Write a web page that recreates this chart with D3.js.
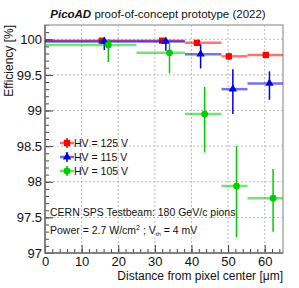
<!DOCTYPE html>
<html><head><meta charset="utf-8">
<script src="https://cdn.jsdelivr.net/npm/d3@7"></script>
<style>body{margin:0;background:#fff;}svg{display:block;font-family:"Liberation Sans",Arial,sans-serif;}</style>
</head><body><div id="chart"></div>
<script>
// Data: x (µm), x-low, x-high, efficiency (%), eff-low, eff-high
const series = ["HV = 125 V", "HV = 115 V", "HV = 105 V"];
const colors = ["#ff0000", "#0000e0", "#00cc00"];
const redX    = [15.5, 32.0, 41.5, 50.2, 60.3];
const redXlo  = [0, 25, 38.2, 48.2, 55.3];
const redXhi  = [25, 38.2, 48.2, 55.3, 65];
const redY    = [99.98, 99.98, 99.95, 99.76, 99.78];
const redYlo  = [99.95, 99.95, 99.91, 99.71, 99.74];
const redYhi  = [100.0, 100.0, 99.99, 99.81, 99.82];
const blueX   = [16.2, 33.0, 42.5, 51.3, 61.3];
const blueXlo = [0, 25, 38.2, 48.2, 55.3];
const blueXhi = [25, 38.2, 48.2, 55.3, 65];
const blueY   = [99.97, 99.97, 99.79, 99.30, 99.38];
const blueYlo = [99.85, 99.84, 99.59, 98.95, 99.15];
const blueYhi = [100.0, 100.0, 99.93, 99.58, 99.55];
const greenX   = [17.3, 34.0, 43.6, 52.3, 62.3];
const greenXlo = [0, 25, 38.2, 48.2, 55.3];
const greenXhi = [25, 38.2, 48.2, 55.3, 65];
const greenY   = [99.92, 99.81, 98.95, 97.94, 97.77];
const greenYlo = [99.68, 99.52, 98.41, 97.22, 97.30];
const greenYhi = [100.0, 99.95, 99.33, 98.50, 98.18];
const xTicks = [0, 10, 20, 30, 40, 50, 60];
const yTicks = [97, 97.5, 98, 98.5, 99, 99.5, 100];

const W = 299, H = 288;
const m = {l: 45, r: 283, t: 25, b: 253};
const svg = d3.select("#chart").append("svg").attr("width", W).attr("height", H);
const x = d3.scaleLinear().domain([0, 65]).range([m.l, m.r]);
const y = d3.scaleLinear().domain([97, 100.2]).range([m.b, m.t]);

// grid
const g = svg.append("g");
g.selectAll(".gx").data(xTicks.filter(d => d > 0)).join("line")
  .attr("x1", d => x(d)).attr("x2", d => x(d)).attr("y1", m.t).attr("y2", m.b)
  .attr("stroke", "#bbb").attr("stroke-width", 1).attr("stroke-dasharray", "2,2");
g.selectAll(".gy").data(yTicks.filter(d => d > 97)).join("line")
  .attr("y1", d => y(d)).attr("y2", d => y(d)).attr("x1", m.l).attr("x2", m.r)
  .attr("stroke", "#bbb").attr("stroke-width", 1).attr("stroke-dasharray", "2,2");

// axes
const xAxis = d3.axisBottom(x).tickValues(xTicks).tickSize(-8).tickPadding(8).tickFormat(d3.format("d"));
const yAxis = d3.axisLeft(y).tickValues(yTicks).tickSize(-8).tickPadding(3).tickFormat(d => d);
const xMinor = d3.axisBottom(x).tickValues(d3.range(0, 65.01, 2)).tickSize(-4).tickFormat("");
const yMinor = d3.axisLeft(y).tickValues(d3.range(97, 100.21, 0.1)).tickSize(-4).tickFormat("");
[ [xMinor, `translate(0,${m.b})`], [yMinor, `translate(${m.l},0)`] ].forEach(([a, t]) => {
  const s = svg.append("g").attr("transform", t).call(a);
  s.select(".domain").remove();
  s.selectAll("line").attr("stroke", "#444");
});
const gx = svg.append("g").attr("transform", `translate(0,${m.b})`).call(xAxis);
const gy = svg.append("g").attr("transform", `translate(${m.l},0)`).call(yAxis);
[gx, gy].forEach(s => {
  s.select(".domain").remove();
  s.selectAll("line").attr("stroke", "#444");
  s.selectAll("text").attr("font-size", 13).attr("fill", "#111").attr("font-family", "Liberation Sans, Arial, sans-serif");
});
gx.selectAll("text").attr("dy", "0.35em");

// frame
svg.append("rect").attr("x", m.l).attr("y", m.t).attr("width", m.r - m.l).attr("height", m.b - m.t)
  .attr("fill", "none").attr("stroke", "#aaa").attr("stroke-width", 1.5);
svg.append("line").attr("x1", m.l).attr("x2", m.l).attr("y1", m.t).attr("y2", m.b).attr("stroke", "#444");
svg.append("line").attr("x1", m.l).attr("x2", m.r).attr("y1", m.b).attr("y2", m.b).attr("stroke", "#444");

// data
const sets = [
  {X: redX, Xlo: redXlo, Xhi: redXhi, Y: redY, Ylo: redYlo, Yhi: redYhi, shape: "square"},
  {X: blueX, Xlo: blueXlo, Xhi: blueXhi, Y: blueY, Ylo: blueYlo, Yhi: blueYhi, shape: "triangle"},
  {X: greenX, Xlo: greenXlo, Xhi: greenXhi, Y: greenY, Ylo: greenYlo, Yhi: greenYhi, shape: "circle"}
];
const shapes = {square: d3.symbolSquare, triangle: d3.symbolTriangle, circle: d3.symbolCircle};
const sizes = {square: 40, triangle: 30, circle: 36};
const plot = svg.append("g");
sets.forEach((s, i) => {
  const pts = s.X.map((v, j) => ({x: v, xl: s.Xlo[j], xh: s.Xhi[j], y: s.Y[j], yl: s.Ylo[j], yh: s.Yhi[j]}));
  const grp = plot.append("g");
  grp.selectAll(".h").data(pts).join("line")
    .attr("x1", d => x(d.xl)).attr("x2", d => x(d.xh)).attr("y1", d => y(d.y)).attr("y2", d => y(d.y))
    .attr("stroke", colors[i]).attr("stroke-opacity", 0.55).attr("stroke-width", 2.5);
  grp.selectAll(".v").data(pts).join("line")
    .attr("x1", d => x(d.x)).attr("x2", d => x(d.x)).attr("y1", d => y(Math.min(d.yh, 100.2))).attr("y2", d => y(d.yl))
    .attr("stroke", colors[i]).attr("stroke-width", 1.5);
  grp.selectAll(".p").data(pts).join("path")
    .attr("d", d3.symbol().type(shapes[s.shape]).size(sizes[s.shape]))
    .attr("transform", d => `translate(${x(d.x)},${y(d.y)})`)
    .attr("fill", colors[i]);
});

// legend
const legY = [143, 157, 171];
sets.forEach((s, i) => {
  const lg = svg.append("g").attr("transform", `translate(67,${legY[i]})`);
  lg.append("line").attr("x1", -7).attr("x2", 7).attr("stroke", colors[i]).attr("stroke-opacity", 0.6).attr("stroke-width", 2.5);
  lg.append("line").attr("y1", -5).attr("y2", 5).attr("stroke", colors[i]).attr("stroke-width", 1.5);
  lg.append("path").attr("d", d3.symbol().type(shapes[s.shape]).size(sizes[s.shape])()).attr("fill", colors[i]);
  svg.append("text").attr("x", 74).attr("y", legY[i] + 4).attr("font-size", 10.5).attr("fill", "#111").text(series[i]);
});

// annotations
svg.append("text").attr("x", 50).attr("y", 216).attr("font-size", 10.5).attr("fill", "#111")
  .text("CERN SPS Testbeam: 180 GeV/c pions");
const t2 = svg.append("text").attr("x", 50).attr("y", 234).attr("font-size", 10.5).attr("fill", "#111");
t2.append("tspan").text("Power = 2.7 W/cm");
t2.append("tspan").attr("font-size", 7).attr("dy", -4).text("2");
t2.append("tspan").attr("dy", 4).text(" ; V");
t2.append("tspan").attr("font-size", 6).attr("dy", 2).text("th");
t2.append("tspan").attr("dy", -2).text(" = 4 mV");

// title
const tt = svg.append("text").attr("x", 158).attr("y", 18).attr("text-anchor", "middle").attr("font-size", 11.5).attr("fill", "#111");
tt.append("tspan").attr("font-weight", "bold").attr("font-style", "italic").text("PicoAD");
tt.append("tspan").text(" proof-of-concept prototype (2022)");

// axis titles
svg.append("text").attr("x", m.r).attr("y", 280).attr("text-anchor", "end").attr("font-size", 12).attr("fill", "#111")
  .text("Distance from pixel center [μm]");
svg.append("text").attr("transform", `translate(13,${m.t}) rotate(-90)`).attr("text-anchor", "end").attr("font-size", 12).attr("fill", "#111")
  .text("Efficiency [%]");
</script></body></html>
